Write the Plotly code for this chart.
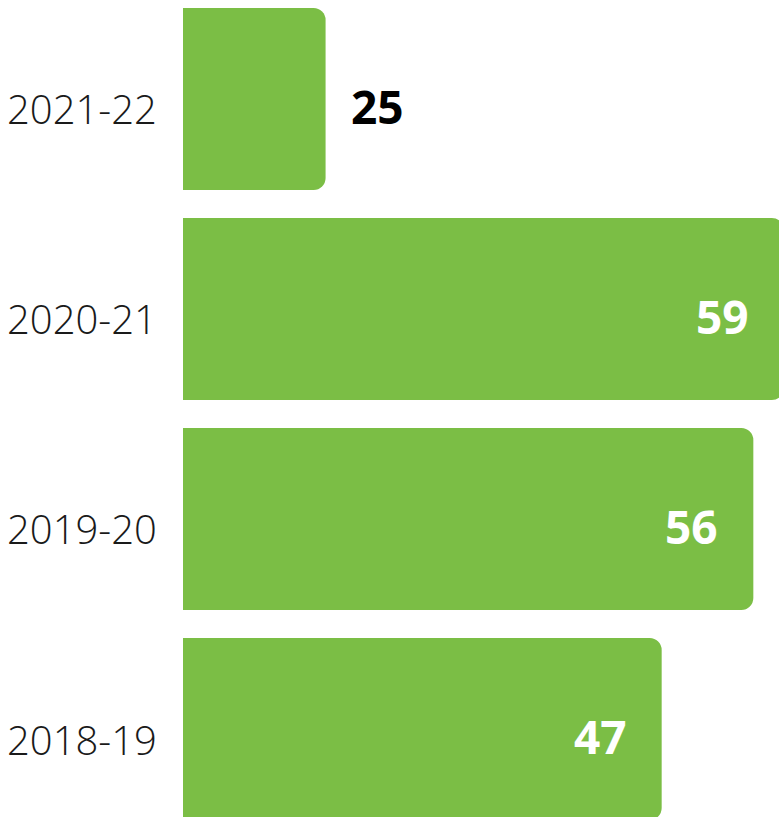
import plotly.graph_objects as go

# Data (bottom to top)
categories = ["2018-19", "2019-20", "2020-21", "2021-22"]
value_labels = [47, 56, 59, 25]          # numbers printed on the chart
bar_lengths = [47, 56, 59, 14]           # drawn bar lengths as they appear in the picture

GREEN = "#7BBE45"
X_MAX = 58.52

fig = go.Figure(
    go.Bar(
        x=bar_lengths,
        y=categories,
        orientation="h",
        marker=dict(color=GREEN, line=dict(width=0)),
        hoverinfo="skip",
    )
)

annotations = []
for cat, length, lab in zip(categories, bar_lengths, value_labels):
    inside = length >= 20
    annotations.append(dict(
        xref="paper", yref="y",
        x=length / X_MAX, y=cat,
        text=f"<b>{lab}</b>",
        showarrow=False,
        xanchor="right" if inside else "left",
        xshift=-33 if inside else 23,
        yshift=-7,
        font=dict(family="Open Sans", size=46, color="white" if inside else "black"),
    ))
    # category label on the left
    annotations.append(dict(
        xref="paper", yref="y",
        x=0, y=cat,
        text=cat,
        showarrow=False,
        xanchor="right",
        xshift=-24,
        yshift=-10,
        font=dict(family="Open Sans", size=40, color="#1a1a1a", weight=300),
    ))

fig.update_layout(
    width=779, height=817,
    margin=dict(l=183, r=0, t=0, b=0),
    paper_bgcolor="white", plot_bgcolor="white",
    barcornerradius=12,
    bargap=0.133,
    showlegend=False,
    annotations=annotations,
)
fig.update_xaxes(range=[0, X_MAX], visible=False, fixedrange=True)
fig.update_yaxes(
    range=[-0.419, 3.471],
    showgrid=False, zeroline=False, showline=False, ticks="",
    showticklabels=False,
    fixedrange=True,
)

fig.write_html(
    "out.html",
    config={"displayModeBar": False},
    post_script="document.body.style.margin='0';document.body.style.overflow='hidden';",
)
